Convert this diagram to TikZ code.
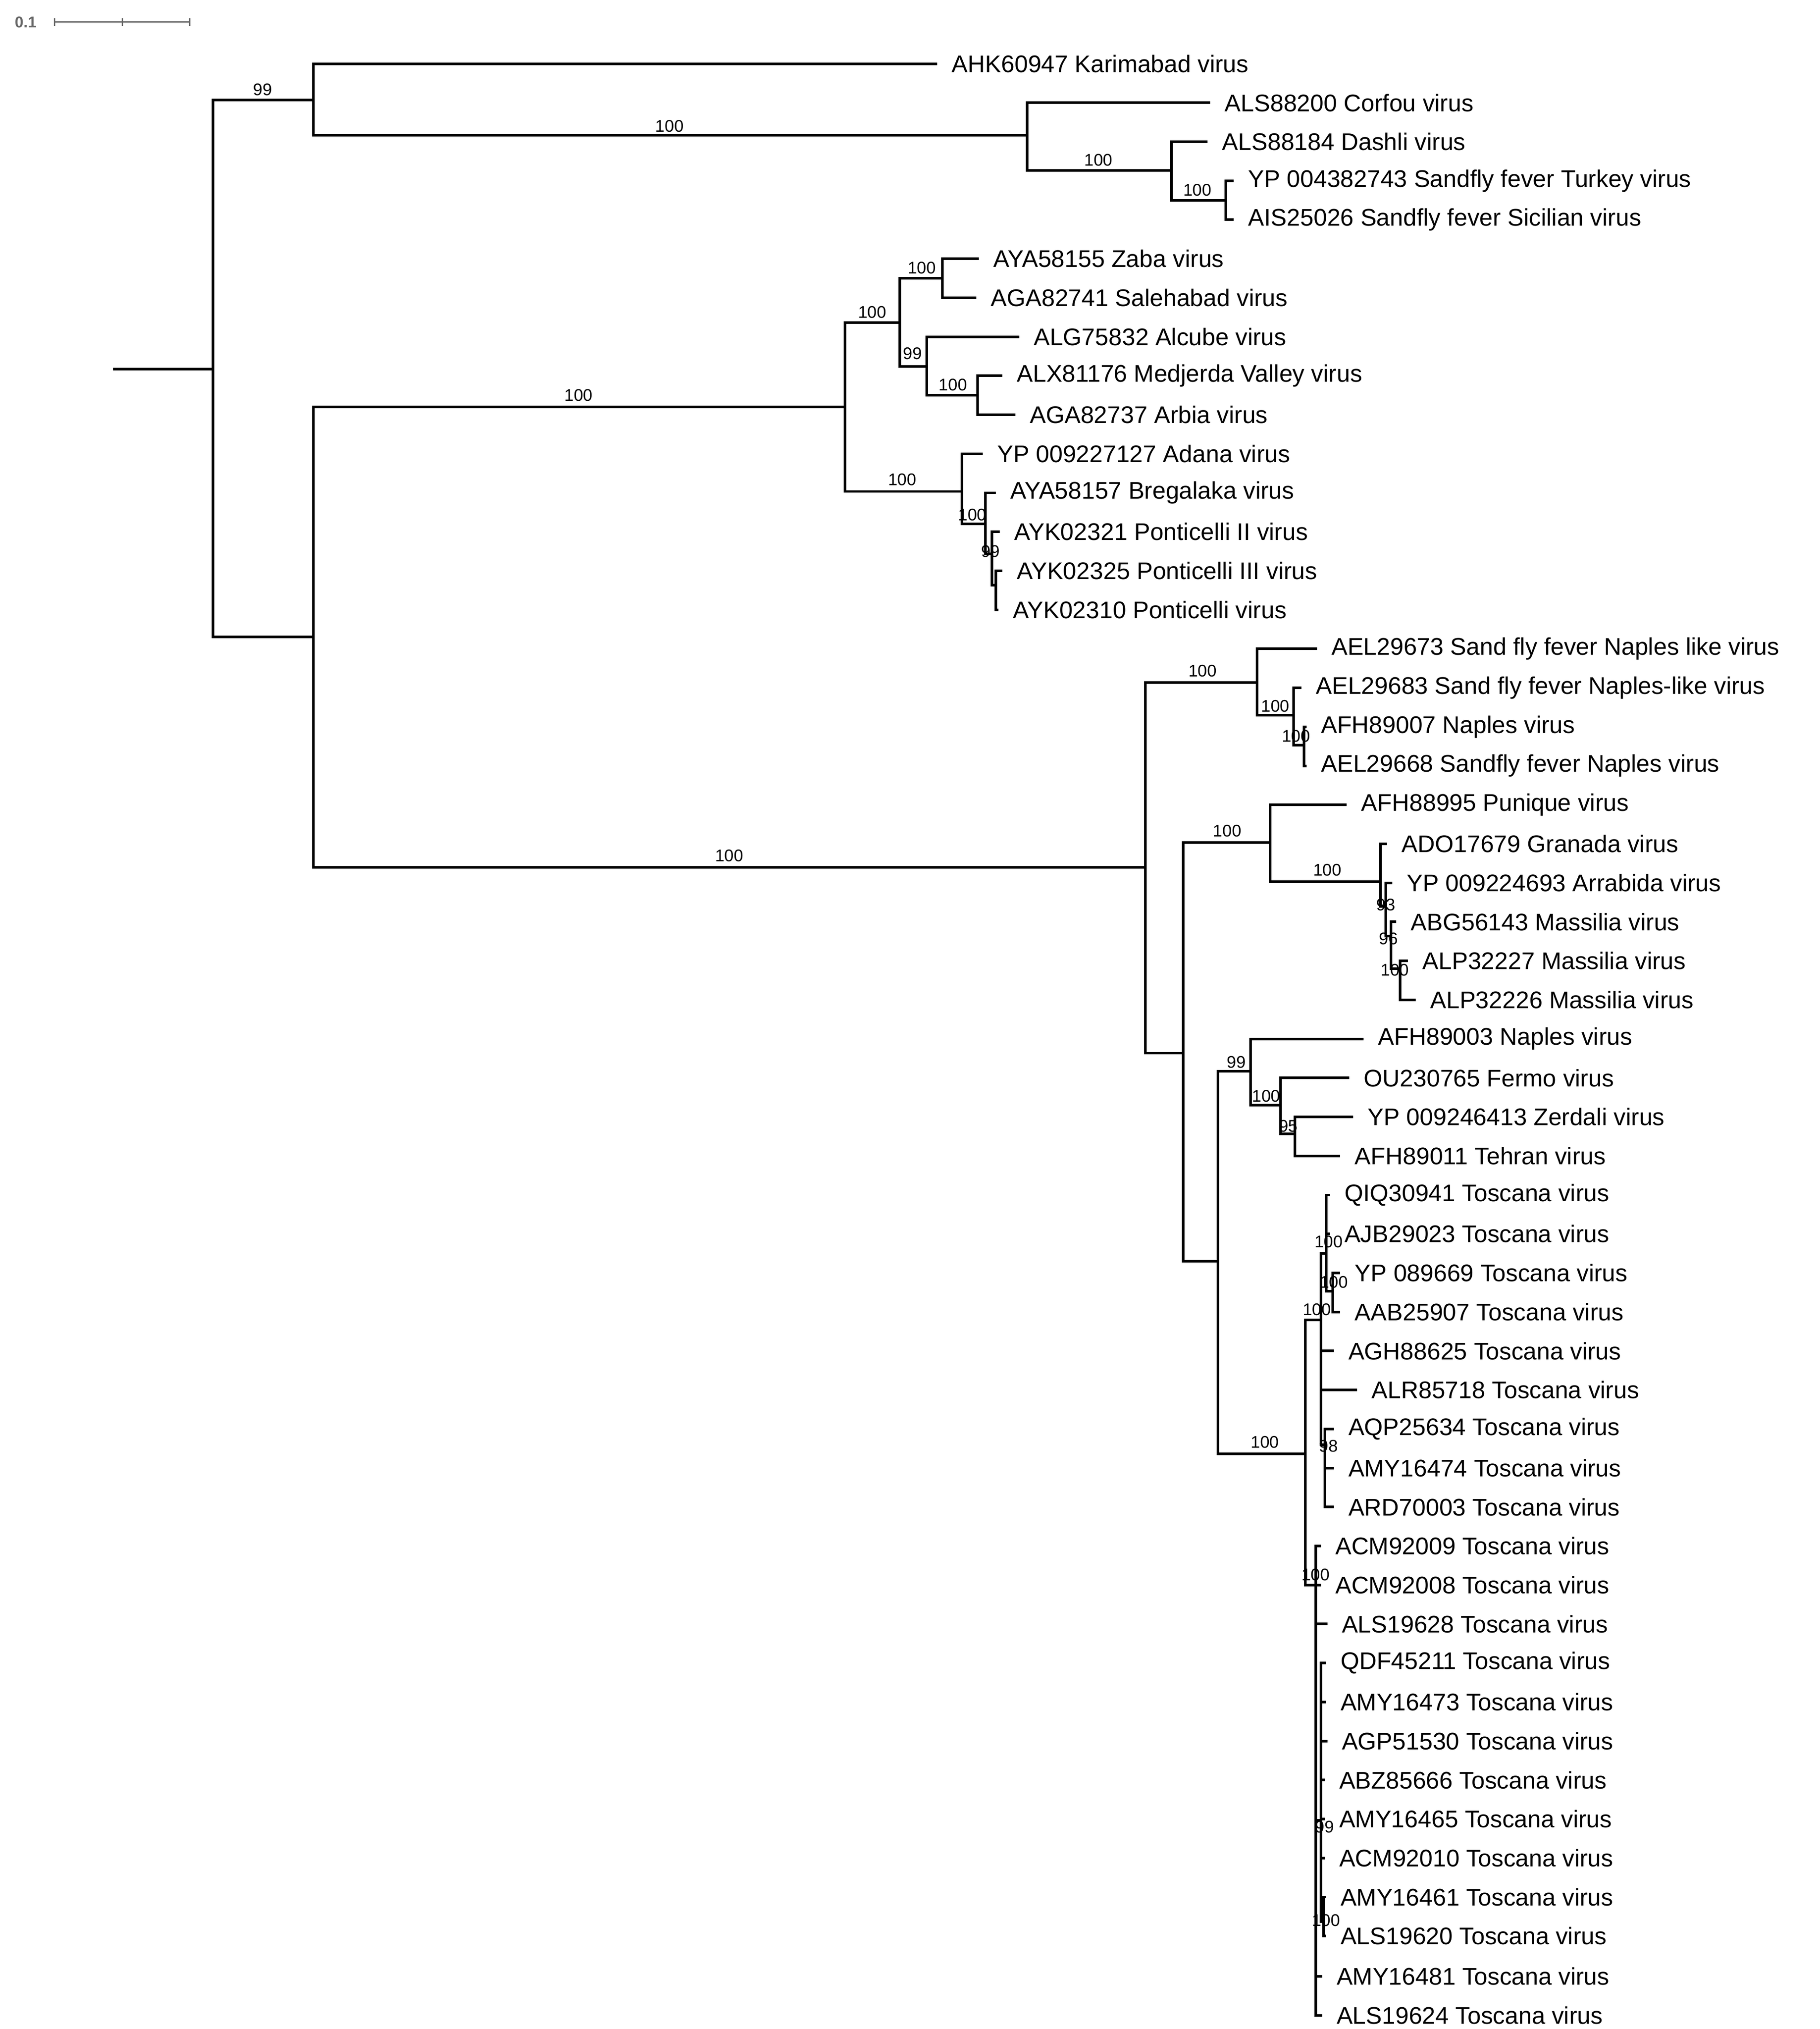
\documentclass[tikz,border=0pt]{standalone}
\usepackage{fontspec}
\setmainfont{Liberation Sans}
\begin{document}
\begin{tikzpicture}[x=1pt,y=-1pt,
  br/.style={line width=2pt,line cap=rect},
  leaf/.style={anchor=west,inner sep=0pt,font=\fontsize{18.5}{20}\selectfont},
  bs/.style={inner sep=0pt,font=\fontsize{13}{14}\selectfont}]
\useasboundingbox[fill=white] (0,0) rectangle (1400,1560.5);
% scale bar
\node[bs,text=black!60,font=\fontsize{12}{13}\bfseries] (sb) at (20,17) {0.1};
\coordinate (s1) at (42,17); \coordinate (s2) at (146,17); \coordinate (s3) at (94,17);
\draw[black!60,line width=1pt] (s1) -- (s2);
\foreach \p in {s1,s2,s3} \draw[black!60,line width=1pt] ([yshift=-3pt]\p) -- ([yshift=3pt]\p);
\newcommand{\lf}[4]{\coordinate (#1) at (#2,#3); \node[leaf] (#1-l) at ([xshift=12pt]#1) {#4};}
\newcommand{\bsl}[3]{\node[bs] at (#1,#2) {#3};}
% internal nodes
\coordinate (r0) at (88,284);
\coordinate (n1) at (164,284);
\coordinate (nA) at (241,77); \coordinate (nB) at (241,490);
\coordinate (nC) at (790,104); \coordinate (nD) at (901,131); \coordinate (nE) at (943,154);
\coordinate (nF) at (650,313); \coordinate (nG) at (881,667);
\coordinate (nH) at (692,248); \coordinate (nI) at (740,378);
\coordinate (nJ) at (725,214); \coordinate (nK) at (713,282); \coordinate (nL) at (752,304);
\coordinate (nM) at (758,403); \coordinate (nN) at (763,426); \coordinate (nO) at (766,450);
\coordinate (nP) at (967,525); \coordinate (nQ) at (910,810);
\coordinate (nR) at (995,550); \coordinate (nS) at (1003,573);
\coordinate (nT) at (977,648); \coordinate (nU) at (937,970);
\coordinate (nV) at (1062,678); \coordinate (nW) at (1066,697); \coordinate (nX) at (1070,720); \coordinate (nY) at (1077,745);
\coordinate (nZ) at (962,824); \coordinate (nZ2) at (985,850); \coordinate (nZ3) at (996,872);
\coordinate (t0) at (1004,1118);
\coordinate (tA) at (1016,1015); \coordinate (tB) at (1012,1219);
\coordinate (tC) at (1020,964); \coordinate (tD) at (1019,1111); \coordinate (tE) at (1025,993);
\coordinate (tF) at (1016,1400); \coordinate (tG) at (1018,1478);
% leaves
\lf{k1}{720}{49}{AHK60947 Karimabad virus}
\lf{k2}{930}{79}{ALS88200 Corfou virus}
\lf{k3}{928}{109}{ALS88184 Dashli virus}
\lf{k4}{948}{139}{YP 004382743 Sandfly fever Turkey virus}
\lf{k5}{948}{169}{AIS25026 Sandfly fever Sicilian virus}
\lf{k6}{752}{199}{AYA58155 Zaba virus}
\lf{k7}{750}{229}{AGA82741 Salehabad virus}
\lf{k8}{783}{259}{ALG75832 Alcube virus}
\lf{k9}{770}{289}{ALX81176 Medjerda Valley virus}
\lf{k10}{780}{319}{AGA82737 Arbia virus}
\lf{k11}{755}{349}{YP 009227127 Adana virus}
\lf{k12}{765}{379}{AYA58157 Bregalaka virus}
\lf{k13}{768}{409}{AYK02321 Ponticelli II virus}
\lf{k14}{770}{439}{AYK02325 Ponticelli III virus}
\lf{k15}{767}{469}{AYK02310 Ponticelli virus}
\lf{k16}{1012}{499}{AEL29673 Sand fly fever Naples like virus}
\lf{k17}{1000}{529}{AEL29683 Sand fly fever Naples-like virus}
\lf{k18}{1004}{559}{AFH89007 Naples virus}
\lf{k19}{1004}{589}{AEL29668 Sandfly fever Naples virus}
\lf{k20}{1035}{619}{AFH88995 Punique virus}
\lf{k21}{1066}{649}{ADO17679 Granada virus}
\lf{k22}{1070}{679}{YP 009224693 Arrabida virus}
\lf{k23}{1073}{709}{ABG56143 Massilia virus}
\lf{k24}{1082}{739}{ALP32227 Massilia virus}
\lf{k25}{1088}{769}{ALP32226 Massilia virus}
\lf{k26}{1048}{799}{AFH89003 Naples virus}
\lf{k27}{1037}{829}{OU230765 Fermo virus}
\lf{k28}{1040}{859}{YP 009246413 Zerdali virus}
\lf{k29}{1030}{889}{AFH89011 Tehran virus}
\lf{k30}{1022}{919}{QIQ30941 Toscana virus}
\lf{k31}{1022}{949}{AJB29023 Toscana virus}
\lf{k32}{1030}{979}{YP 089669 Toscana virus}
\lf{k33}{1030}{1009}{AAB25907 Toscana virus}
\lf{k34}{1025}{1039}{AGH88625 Toscana virus}
\lf{k35}{1043}{1069}{ALR85718 Toscana virus}
\lf{k36}{1025}{1099}{AQP25634 Toscana virus}
\lf{k37}{1025}{1129}{AMY16474 Toscana virus}
\lf{k38}{1025}{1159}{ARD70003 Toscana virus}
\lf{k39}{1015}{1189}{ACM92009 Toscana virus}
\lf{k40}{1015}{1219}{ACM92008 Toscana virus}
\lf{k41}{1020}{1249}{ALS19628 Toscana virus}
\lf{k42}{1019}{1279}{QDF45211 Toscana virus}
\lf{k43}{1019}{1309}{AMY16473 Toscana virus}
\lf{k44}{1020}{1339}{AGP51530 Toscana virus}
\lf{k45}{1018}{1369}{ABZ85666 Toscana virus}
\lf{k46}{1018}{1399}{AMY16465 Toscana virus}
\lf{k47}{1018}{1429}{ACM92010 Toscana virus}
\lf{k48}{1019}{1459}{AMY16461 Toscana virus}
\lf{k49}{1019}{1489}{ALS19620 Toscana virus}
\lf{k50}{1016}{1520}{AMY16481 Toscana virus}
\lf{k51}{1016}{1550}{ALS19624 Toscana virus}
% branches
\draw[br] (r0) -- (n1);
\foreach \p/\c in {n1/nA,n1/nB,nA/k1,nA/nC,nC/k2,nC/nD,nD/k3,nD/nE,nE/k4,nE/k5,
  nB/nF,nB/nG,nF/nH,nF/nI,nH/nJ,nH/nK,nJ/k6,nJ/k7,nK/k8,nK/nL,nL/k9,nL/k10,
  nI/k11,nI/nM,nM/k12,nM/nN,nN/k13,nN/nO,nO/k14,nO/k15,
  nG/nP,nG/nQ,nP/k16,nP/nR,nR/k17,nR/nS,nS/k18,nS/k19,
  nQ/nT,nQ/nU,nT/k20,nT/nV,nV/k21,nV/nW,nW/k22,nW/nX,nX/k23,nX/nY,nY/k24,nY/k25,
  nU/nZ,nU/t0,nZ/k26,nZ/nZ2,nZ2/k27,nZ2/nZ3,nZ3/k28,nZ3/k29,
  t0/tA,t0/tB,tA/tC,tA/k34,tA/k35,tA/tD,tC/k30,tC/k31,tC/tE,tE/k32,tE/k33,
  tD/k36,tD/k37,tD/k38,tB/k39,tB/k40,tB/k41,tB/tF,tB/k50,tB/k51,
  tF/k42,tF/k43,tF/k44,tF/k45,tF/k46,tF/k47,tF/tG,tG/k48,tG/k49}
  \draw[br] (\p) |- (\c);
% bootstrap values
\bsl{202}{69}{99} \bsl{515}{97}{100} \bsl{845}{123}{100} \bsl{921}{146}{100}
\bsl{445}{304}{100} \bsl{671}{240}{100} \bsl{709}{206}{100} \bsl{702}{272}{99}
\bsl{733}{296}{100} \bsl{694}{369}{100} \bsl{748}{396}{100} \bsl{762}{424}{99}
\bsl{561}{658}{100} \bsl{925}{516}{100} \bsl{981}{543}{100} \bsl{997}{566}{100}
\bsl{944}{639}{100} \bsl{1021}{669}{100} \bsl{1066}{696}{93} \bsl{1068}{722}{96}
\bsl{1073}{746}{100} \bsl{951}{817}{99} \bsl{974}{843}{100} \bsl{991}{866}{95}
\bsl{973}{1109}{100} \bsl{1013}{1007}{100} \bsl{1022}{955}{100} \bsl{1026}{986}{100}
\bsl{1022}{1112}{98} \bsl{1012}{1211}{100} \bsl{1019}{1405}{99} \bsl{1020}{1477}{100}
\end{tikzpicture}
\end{document}
